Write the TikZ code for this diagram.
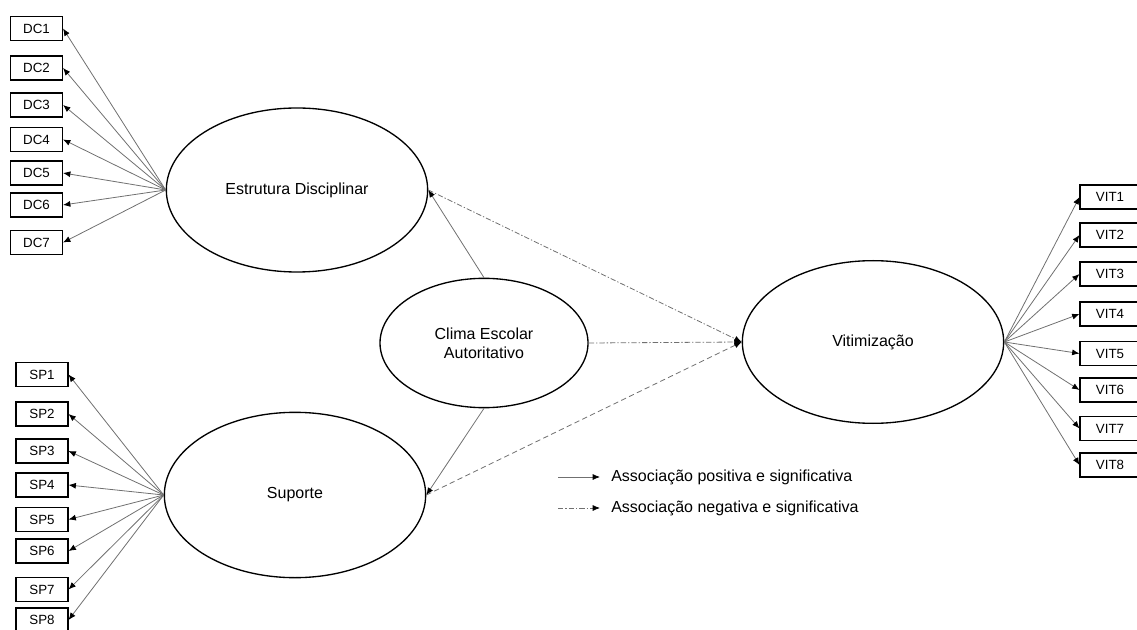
\documentclass[tikz,border=0pt]{standalone}
\usepackage{fontspec}
\setmainfont{Liberation Sans}
\usetikzlibrary{arrows.meta,shapes.geometric}
\definecolor{Line}{HTML}{707070}
\tikzset{
 latent/.style={draw=black,ellipse,line width=1pt,inner sep=0pt,align=center,
   font=\fontsize{12}{14}\selectfont},
 item/.style={draw=black,line width=0.8pt,minimum width=39pt,minimum height=18pt,
   inner sep=0pt,font=\fontsize{10}{12}\selectfont},
 arr/.style={-{Latex[length=5.5pt,width=4.5pt,black]},line width=0.6pt,draw=Line},
 neg/.style={arr,dash pattern=on 4pt off 1.5pt on 1pt off 1.5pt},
 negd/.style={arr,dash pattern=on 4pt off 2.5pt},
 legend/.style={anchor=west,inner sep=0pt,font=\fontsize{12}{14}\selectfont}
}
\begin{document}
\begin{tikzpicture}[x=0.75pt,y=-0.75pt]
\useasboundingbox (0,0) rectangle (1137,630);
% latent variables
\node[latent,minimum width=196pt,minimum height=123pt] (est) at (297,190) {Estrutura Disciplinar};
\node[latent,minimum width=196pt,minimum height=124pt] (sup) at (295,495) {Suporte};
\node[latent,minimum width=156pt,minimum height=97pt] (clima) at (484,343) {Clima Escolar\\Autoritativo};
\node[latent,minimum width=196pt,minimum height=122pt] (vit) at (873,342) {Vitimização};
% indicators
\node[item] (dc1) at (36.5,28.5) {DC1};
\node[item] (dc2) at (36.5,68) {DC2};
\node[item] (dc3) at (36.5,105) {DC3};
\node[item] (dc4) at (36.5,139.5) {DC4};
\node[item] (dc5) at (36.5,173) {DC5};
\node[item] (dc6) at (36.5,205) {DC6};
\node[item] (dc7) at (36.5,242.5) {DC7};
\node[item] (sp1) at (42,374.5) {SP1};
\node[item] (sp2) at (42,414) {SP2};
\node[item] (sp3) at (42,451) {SP3};
\node[item] (sp4) at (42,485) {SP4};
\node[item] (sp5) at (42,519.5) {SP5};
\node[item] (sp6) at (42,551) {SP6};
\node[item] (sp7) at (42,589.5) {SP7};
\node[item] (sp8) at (42,620) {SP8};
\node[item,minimum width=45pt] (vit1) at (1110,197) {VIT1};
\node[item,minimum width=45pt] (vit2) at (1110,235) {VIT2};
\node[item,minimum width=45pt] (vit3) at (1110,274) {VIT3};
\node[item,minimum width=45pt] (vit4) at (1110,314) {VIT4};
\node[item,minimum width=45pt] (vit5) at (1110,353.5) {VIT5};
\node[item,minimum width=45pt] (vit6) at (1110,390) {VIT6};
\node[item,minimum width=45pt] (vit7) at (1110,428.5) {VIT7};
\node[item,minimum width=45pt] (vit8) at (1110,465) {VIT8};
% loadings
\draw[arr] (est.west)--(dc1.east);\draw[arr] (est.west)--(dc2.east);\draw[arr] (est.west)--(dc3.east);
\draw[arr] (est.west)--(dc4.east);\draw[arr] (est.west)--(dc5.east);\draw[arr] (est.west)--(dc6.east);
\draw[arr] (est.west)--(dc7.east);
\draw[arr] (sup.west)--(sp1.east);\draw[arr] (sup.west)--(sp2.east);\draw[arr] (sup.west)--(sp3.east);
\draw[arr] (sup.west)--(sp4.east);\draw[arr] (sup.west)--(sp5.east);\draw[arr] (sup.west)--(sp6.east);
\draw[arr] (sup.west)--(sp7.east);\draw[arr] (sup.west)--(sp8.east);
\draw[arr] (vit.east)--(vit1.west);\draw[arr] (vit.east)--(vit2.west);\draw[arr] (vit.east)--(vit3.west);
\draw[arr] (vit.east)--(vit4.west);\draw[arr] (vit.east)--(vit5.west);\draw[arr] (vit.east)--(vit6.west);
\draw[arr] (vit.east)--(vit7.west);\draw[arr] (vit.east)--(vit8.west);
% structural paths
\draw[arr] (clima.north)--(est.east);\draw[arr] (clima.south)--(sup.east);
\draw[neg] (est.east)--(vit.west);\draw[neg] (clima.east)--(vit.west);
\draw[negd] (sup.east)--(vit.west);
% legend
\coordinate (p0) at (558,477);\coordinate (p1) at (600,477);
\coordinate (n0) at (558,508);\coordinate (n1) at (600,508);
\draw[arr] (p0)--(p1);\draw[neg] (n0)--(n1);
\node[legend] (pos) at (611,477) {Associação positiva e significativa};
\node[legend] (negt) at (611,508) {Associação negativa e significativa};
\end{tikzpicture}
\end{document}
